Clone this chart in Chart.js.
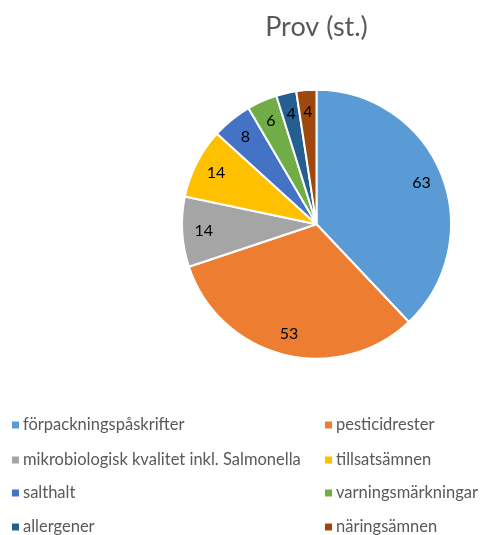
<!DOCTYPE html>
<html>
<head>
<meta charset="utf-8">
<script src="https://cdn.jsdelivr.net/npm/chart.js@4"></script>
<style>
  body { margin: 0; background: #fff; }
  #wrap { width: 484px; height: 535px; }
</style>
</head>
<body>
<div id="wrap"><canvas id="graf" width="484" height="535"></canvas></div>
<script>
// Data
const kategorier = [
  "förpackningspåskrifter",
  "pesticidrester",
  "mikrobiologisk kvalitet inkl. Salmonella",
  "tillsatsämnen",
  "salthalt",
  "varningsmärkningar",
  "allergener",
  "näringsämnen"
];
const antalProv = [63, 53, 14, 14, 8, 6, 4, 4];
const farger = ["#5B9BD5", "#ED7D31", "#A5A5A5", "#FFC000", "#4472C4", "#70AD47", "#255E91", "#9E480E"];

const FONT = "Lato, 'Open Sans', sans-serif";

// Etiketter i tårtbitarna
const etiketter = {
  id: "etiketter",
  afterDatasetsDraw(chart) {
    const ctx = chart.ctx;
    const meta = chart.getDatasetMeta(0);
    ctx.save();
    ctx.fillStyle = "#000";
    ctx.font = "16px " + FONT;
    ctx.textAlign = "center";
    ctx.textBaseline = "middle";
    meta.data.forEach((arc, i) => {
      const mitt = (arc.startAngle + arc.endAngle) / 2;
      const r = arc.outerRadius * 0.84;
      const x = arc.x + Math.cos(mitt) * r;
      const y = arc.y + Math.sin(mitt) * r;
      ctx.fillText(String(antalProv[i]), x, y);
    });
    ctx.restore();
  }
};

// Förklaring i två kolumner
const forklaring = {
  id: "forklaring",
  afterDraw(chart) {
    const ctx = chart.ctx;
    const kolumnX = [12, 325];
    const radY = [425, 460, 493, 527];
    ctx.save();
    ctx.font = "16.5px " + FONT;
    ctx.textBaseline = "middle";
    kategorier.forEach((namn, i) => {
      const x = kolumnX[i % 2];
      const y = radY[Math.floor(i / 2)];
      ctx.fillStyle = farger[i];
      ctx.fillRect(x, y - 3.5, 7, 7);
      ctx.fillStyle = "#595959";
      ctx.fillText(namn, x + 11, y);
    });
    ctx.restore();
  }
};

new Chart(document.getElementById("graf").getContext("2d"), {
  type: "pie",
  data: {
    labels: kategorier,
    datasets: [{
      data: antalProv,
      backgroundColor: farger,
      borderColor: "#ffffff",
      borderWidth: 2
    }]
  },
  options: {
    responsive: false,
    animation: false,
    layout: { padding: { left: 181, right: 32, top: 0, bottom: 175 } },
    plugins: {
      legend: { display: false },
      tooltip: { enabled: false },
      title: {
        display: true,
        text: "Prov (st.)",
        color: "#595959",
        font: { family: FONT, size: 27, weight: "normal" },
        padding: { top: 11, bottom: 45 }
      }
    }
  },
  plugins: [etiketter, forklaring]
});
</script>
</body>
</html>
